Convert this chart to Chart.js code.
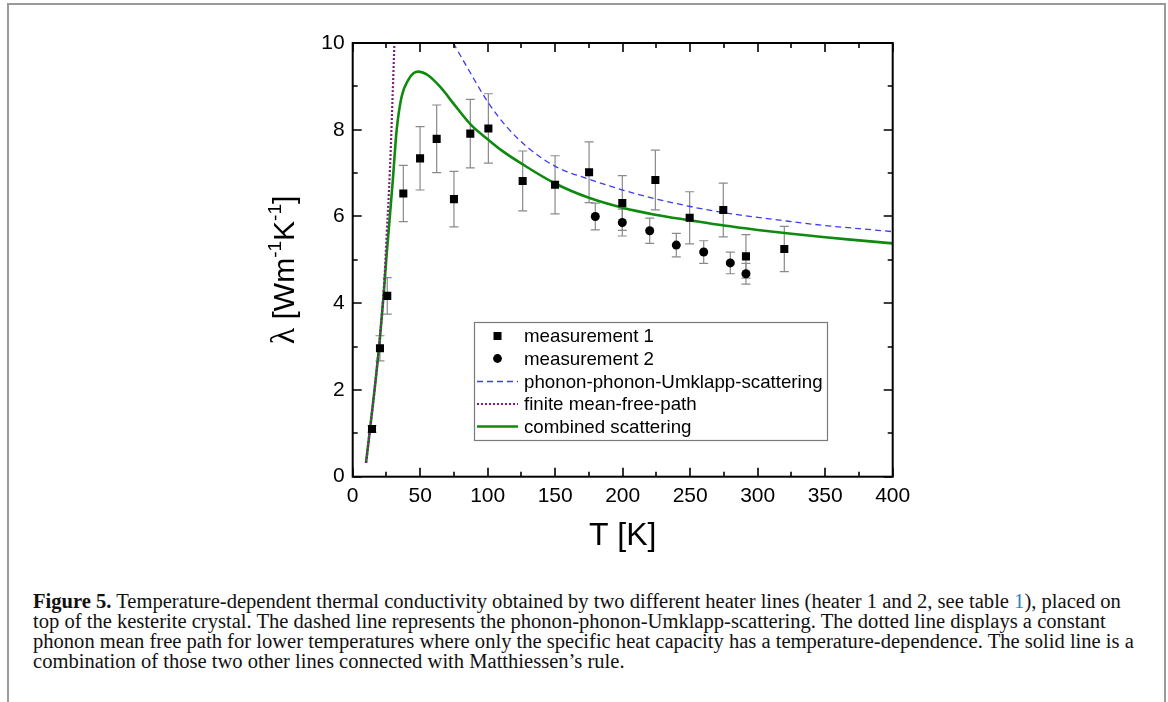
<!DOCTYPE html>
<html>
<head>
<meta charset="utf-8">
<script src="https://cdn.jsdelivr.net/npm/chart.js@4"></script>
<style>
  html, body { margin:0; padding:0; background:#fff; width:1168px; height:702px; overflow:hidden; }
  #frame { position:absolute; left:7px; top:3px; width:1155px; height:720px; border-left:2px solid #9a9a9a; border-top:2px solid #9a9a9a; border-right:2px solid #9a9a9a; }
  #c { position:absolute; left:0; top:0; }
  #cap { position:absolute; left:33px; top:591px; font-family:'Liberation Serif','Times New Roman',serif; font-size:20px; line-height:20px; color:#111; transform-origin:0 0; white-space:nowrap; }
  #cap div { white-space:nowrap; }
  #cap .lnk { color:#2f7fc1; }
</style>
</head>
<body>
<div id="frame"></div>
<canvas id="c" width="1168" height="570"></canvas>
<div id="cap">
  <div id="l1"><b>Figure 5.</b> Temperature-dependent thermal conductivity obtained by two different heater lines (heater 1 and 2, see table <span class="lnk">1</span>), placed on</div>
  <div>top of the kesterite crystal. The dashed line represents the phonon-phonon-Umklapp-scattering. The dotted line displays a constant</div>
  <div>phonon mean free path for lower temperatures where only the specific heat capacity has a temperature-dependence. The solid line is a</div>
  <div>combination of those two other lines connected with Matthiessen’s rule.</div>
</div>
<script>
// ---- data ----
const xTicks = [0, 50, 100, 150, 200, 250, 300, 350, 400];
const yTicks = [0, 2, 4, 6, 8, 10];

const m1T = [14.3, 20.2, 25.6, 37.5, 49.9, 62.2, 75.0, 87.1, 100.5, 125.9, 149.9, 175.1, 199.7, 224.2, 249.6, 274.5, 291.3, 319.7];
const m1L = [1.10, 2.96, 4.17, 6.53, 7.34, 7.79, 6.40, 7.91, 8.03, 6.82, 6.73, 7.02, 6.31, 6.84, 5.97, 6.15, 5.08, 5.25];
const m1E = [0.08, 0.29, 0.42, 0.65, 0.73, 0.78, 0.64, 0.79, 0.80, 0.69, 0.67, 0.70, 0.63, 0.69, 0.60, 0.62, 0.50, 0.52];

const m2T = [179.7, 199.7, 220.0, 239.7, 260.0, 279.7, 291.3];
const m2L = [6.00, 5.86, 5.67, 5.34, 5.18, 4.93, 4.68];
const m2E = [0.31, 0.31, 0.29, 0.27, 0.26, 0.25, 0.24];

const umkT = [74.5, 84.4, 100.5, 114, 128.9, 150.4, 175, 200, 224, 250, 274.5, 300, 320, 350, 375, 400];
const umkL = [10.0, 9.46, 8.62, 8.07, 7.61, 7.15, 6.86, 6.61, 6.41, 6.23, 6.09, 5.98, 5.90, 5.79, 5.72, 5.65];

const mfpT = [9.85, 12.8, 16.5, 20.2, 23.2, 25.1, 27.6, 29.4, 30.9];
const mfpL = [0.32, 1.09, 2.09, 3.25, 4.40, 5.55, 7.09, 8.63, 10.0];

const combT = [9.85, 12.8, 16.5, 20.2, 23.2, 25.1, 27.5, 29.5, 32.6, 36.3, 41.2, 45, 48.6, 56, 65, 76, 88, 100, 110, 126, 150, 175, 200, 224, 250, 275, 300, 325, 350, 375, 400];
const combL = [0.32, 1.09, 2.09, 3.2, 4.3, 5.1, 6.0, 6.75, 8.0, 8.77, 9.15, 9.3, 9.34, 9.25, 8.98, 8.55, 8.10, 7.78, 7.53, 7.20, 6.76, 6.43, 6.20, 6.04, 5.91, 5.79, 5.69, 5.60, 5.52, 5.45, 5.38];

const seriesNames = ['measurement 1', 'measurement 2', 'phonon-phonon-Umklapp-scattering', 'finite mean-free-path', 'combined scattering'];

const pts = (X, Y) => X.map((x, i) => ({ x, y: Y[i] }));
const SANS = "'Liberation Sans', Arial, Helvetica, sans-serif";

// error bars (behind the markers)
const errorBars = {
  id: 'errorBars',
  beforeDatasetsDraw(chart) {
    const { ctx, scales: { x, y } } = chart;
    ctx.save();
    ctx.strokeStyle = '#8a8a8a';
    ctx.lineWidth = 1.2;
    [[m1T, m1L, m1E], [m2T, m2L, m2E]].forEach(([T, L, E]) => {
      T.forEach((t, i) => {
        const px = x.getPixelForValue(t);
        const y1 = y.getPixelForValue(L[i] - E[i]);
        const y2 = y.getPixelForValue(L[i] + E[i]);
        ctx.beginPath();
        ctx.moveTo(px, y1); ctx.lineTo(px, y2);
        ctx.moveTo(px - 4.5, y1); ctx.lineTo(px + 4.5, y1);
        ctx.moveTo(px - 4.5, y2); ctx.lineTo(px + 4.5, y2);
        ctx.stroke();
      });
    });
    ctx.restore();
  }
};

// frame, inward ticks, legend, y title
const decor = {
  id: 'decor',
  afterDraw(chart) {
    const { ctx, chartArea: a, scales: { x, y } } = chart;
    ctx.save();
    ctx.strokeStyle = '#000';
    ctx.lineWidth = 2;
    ctx.strokeRect(a.left, a.top, a.right - a.left, a.bottom - a.top);
    ctx.lineWidth = 1.6;
    ctx.beginPath();
    for (let v = 0; v <= 400; v += 25) {
      const px = Math.round(x.getPixelForValue(v));
      const len = (v % 50 === 0) ? 9 : 5;
      ctx.moveTo(px, a.bottom); ctx.lineTo(px, a.bottom - len);
      ctx.moveTo(px, a.top); ctx.lineTo(px, a.top + len);
    }
    for (let v = 0; v <= 10; v += 1) {
      const py = Math.round(y.getPixelForValue(v));
      const len = (v % 2 === 0) ? 9 : 5;
      ctx.moveTo(a.left, py); ctx.lineTo(a.left + len, py);
      ctx.moveTo(a.right, py); ctx.lineTo(a.right - len, py);
    }
    ctx.stroke();

    // legend box
    const bx = 474, by = 322, bw = 353, bh = 118;
    ctx.fillStyle = '#fff';
    ctx.fillRect(bx, by, bw, bh);
    ctx.strokeStyle = '#7a7a7a';
    ctx.lineWidth = 1.2;
    ctx.strokeRect(bx + 0.5, by + 0.5, bw, bh);
    const rows = [336, 358.5, 381.5, 404, 426.5];
    const ds = chart.data.datasets;
    ctx.font = '19px ' + SANS;
    ctx.textBaseline = 'middle';
    ds.forEach((d, i) => {
      const ry = rows[i];
      ctx.save();
      if (i === 0) {
        ctx.fillStyle = '#000';
        ctx.fillRect(497.5 - 4, ry - 4, 8, 8);
      } else if (i === 1) {
        ctx.fillStyle = '#000';
        ctx.beginPath(); ctx.arc(497.5, ry, 4.4, 0, Math.PI * 2); ctx.fill();
      } else {
        ctx.strokeStyle = d.borderColor;
        ctx.lineWidth = d.borderWidth;
        ctx.setLineDash(d.borderDash || []);
        ctx.beginPath(); ctx.moveTo(477, ry); ctx.lineTo(518, ry); ctx.stroke();
      }
      ctx.restore();
      ctx.fillStyle = '#000';
      ctx.save();
      ctx.translate(524, ry + 1);
      ctx.scale(0.985, 1);
      ctx.fillText(d.label, 0, 0);
      ctx.restore();
    });

    // y axis title with superscripts
    ctx.save();
    ctx.translate(283, 270);
    ctx.rotate(-Math.PI / 2);
    ctx.fillStyle = '#000';
    ctx.textBaseline = 'alphabetic';
    const big = '30px ' + SANS, small = '19px ' + SANS, greek = '34px "Liberation Serif", serif';
    const parts = [
      ['λ', greek, 0], [' [Wm', big, 0], ['-1', small, -13], ['K', big, 0], ['-1', small, -13], [']', big, 0]
    ];
    let total = 0;
    parts.forEach(p => { ctx.font = p[1]; total += ctx.measureText(p[0]).width; });
    let cx = -total / 2;
    parts.forEach(p => {
      ctx.font = p[1];
      ctx.fillText(p[0], cx, 11 + p[2]);
      cx += ctx.measureText(p[0]).width;
    });
    ctx.restore();
    ctx.restore();
  }
};

const chart = new Chart(document.getElementById('c'), {
  type: 'scatter',
  data: {
    datasets: [
      { label: seriesNames[0], data: pts(m1T, m1L), pointStyle: 'rect', pointRadius: 5.7, backgroundColor: '#000', borderColor: '#000', borderWidth: 0, showLine: false },
      { label: seriesNames[1], data: pts(m2T, m2L), pointStyle: 'circle', pointRadius: 4.5, backgroundColor: '#000', borderColor: '#000', borderWidth: 0, showLine: false },
      { label: seriesNames[2], data: pts(umkT, umkL), showLine: true, borderColor: '#3b3bf0', borderWidth: 1.3, borderDash: [6, 4], pointRadius: 0, cubicInterpolationMode: 'monotone', fill: false },
      { label: seriesNames[3], data: pts(mfpT, mfpL), showLine: true, borderColor: '#8a168a', borderWidth: 2.2, borderDash: [2, 2], pointRadius: 0, cubicInterpolationMode: 'monotone', fill: false },
      { label: seriesNames[4], data: pts(combT, combL), showLine: true, borderColor: '#0e8a0e', borderWidth: 2.6, pointRadius: 0, cubicInterpolationMode: 'monotone', fill: false }
    ]
  },
  options: {
    responsive: false,
    animation: false,
    devicePixelRatio: 1,
    layout: { padding: { top: 43, right: 275.3, bottom: 10.3, left: 0 } },
    plugins: { legend: { display: false }, tooltip: { enabled: false } },
    scales: {
      x: {
        type: 'linear', min: 0, max: 400,
        afterBuildTicks: s => { s.ticks = xTicks.map(v => ({ value: v })); },
        ticks: { color: '#000', font: { family: SANS, size: 21 }, padding: 7, maxRotation: 0, autoSkip: false },
        grid: { display: false, drawTicks: false },
        border: { display: false },
        title: { display: true, text: 'T [K]', color: '#000', font: { family: SANS, size: 32 }, padding: { top: 0, bottom: 4 } },
        afterFit: s => { s.height = 83; }
      },
      y: {
        type: 'linear', min: 0, max: 10,
        afterBuildTicks: s => { s.ticks = yTicks.map(v => ({ value: v })); },
        ticks: { color: '#000', font: { family: SANS, size: 21 }, padding: 8 },
        grid: { display: false, drawTicks: false },
        border: { display: false },
        afterFit: s => { s.width = 352.7; }
      }
    }
  },
  plugins: [errorBars, decor]
});

// fit caption width to reference
const cap = document.getElementById('cap');
const l1 = document.getElementById('l1');
const w = l1.scrollWidth;
const target = 1101;
cap.style.transform = 'scaleX(' + (target / w) + ')';
</script>
</body>
</html>
